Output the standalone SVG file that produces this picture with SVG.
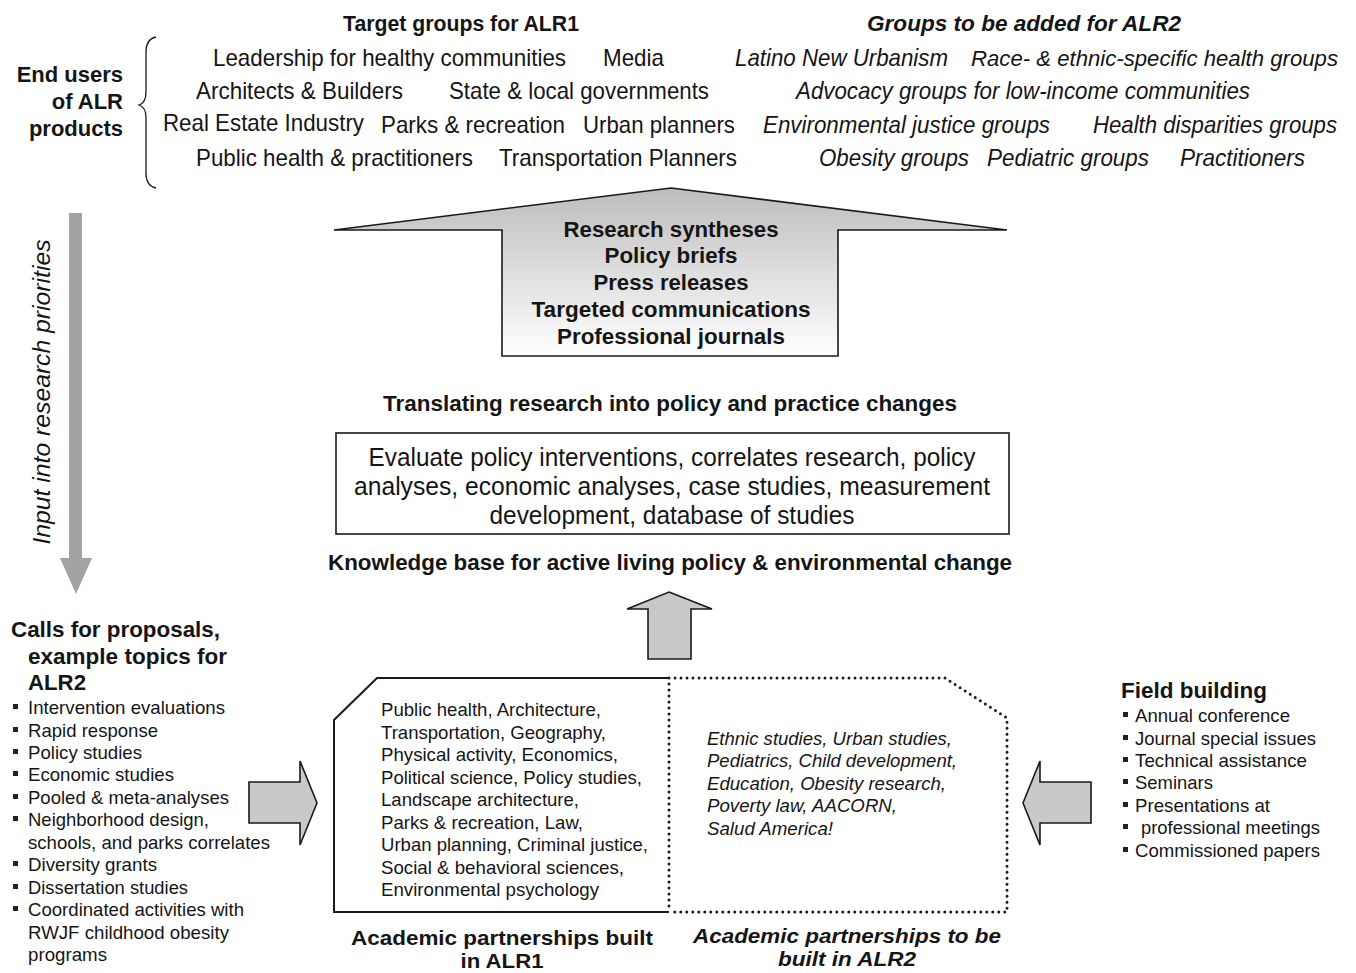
<svg xmlns="http://www.w3.org/2000/svg" width="1356" height="973" viewBox="0 0 1356 973">
<style>
text{font-family:"Liberation Sans",Arial,sans-serif;fill:#151515}
.b{font-weight:bold}
.i{font-style:italic}
.h{font-size:22px}
.k{font-size:20px}
.r{font-size:24px}
.m{font-size:25px}
.s{font-size:19px}
.l{font-size:19px}
.gray{fill:#c9c9c9;stroke:#1a1a1a;stroke-width:1.6;stroke-linejoin:miter}
.dot{fill:none;stroke:#1a1a1a;stroke-width:3;stroke-dasharray:0 6;stroke-linecap:round}
.sq{fill:#222}
</style>
<defs>
<linearGradient id="gr" x1="0" y1="0" x2="0" y2="1">
<stop offset="0" stop-color="#bdbdbd"/>
<stop offset="1" stop-color="#ffffff"/>
</linearGradient>
</defs>
<rect width="1356" height="973" fill="#fff"/>

<g id="end-users">
<text class="b h" x="123" y="82" text-anchor="end">End users</text>
<text class="b h" x="123" y="109" text-anchor="end">of ALR</text>
<text class="b h" x="123" y="136" text-anchor="end">products</text>
<path d="M156,37 Q146,39 146,52 L146,92 Q146,103 139,105 Q146,107 146,118 L146,173 Q146,186 156,188" fill="none" stroke="#1a1a1a" stroke-width="1.3"/>
</g>

<g id="target-groups">
<text class="b h" x="461" y="31" text-anchor="middle" textLength="236" lengthAdjust="spacingAndGlyphs">Target groups for ALR1</text>
<text class="r" x="213" y="66" textLength="353" lengthAdjust="spacingAndGlyphs">Leadership for healthy communities</text>
<text class="r" x="603" y="66" textLength="61" lengthAdjust="spacingAndGlyphs">Media</text>
<text class="r" x="196" y="99" textLength="207" lengthAdjust="spacingAndGlyphs">Architects &amp; Builders</text>
<text class="r" x="449" y="99" textLength="260" lengthAdjust="spacingAndGlyphs">State &amp; local governments</text>
<text class="r" x="163" y="131" textLength="201" lengthAdjust="spacingAndGlyphs">Real Estate Industry</text>
<text class="r" x="381" y="133" textLength="184" lengthAdjust="spacingAndGlyphs">Parks &amp; recreation</text>
<text class="r" x="583" y="133" textLength="152" lengthAdjust="spacingAndGlyphs">Urban planners</text>
<text class="r" x="196" y="166" textLength="277" lengthAdjust="spacingAndGlyphs">Public health &amp; practitioners</text>
<text class="r" x="499" y="166" textLength="238" lengthAdjust="spacingAndGlyphs">Transportation Planners</text>
</g>

<g id="groups-alr2">
<text class="b i h" x="1024" y="31" text-anchor="middle" textLength="314" lengthAdjust="spacingAndGlyphs">Groups to be added for ALR2</text>
<text class="i r" x="735" y="66" textLength="213" lengthAdjust="spacingAndGlyphs">Latino New Urbanism</text>
<text class="i" x="971" y="66" font-size="22" textLength="367" lengthAdjust="spacingAndGlyphs">Race- &amp; ethnic-specific health groups</text>
<text class="i r" x="796" y="99" textLength="454" lengthAdjust="spacingAndGlyphs">Advocacy groups for low-income communities</text>
<text class="i r" x="763" y="133" textLength="287" lengthAdjust="spacingAndGlyphs">Environmental justice groups</text>
<text class="i r" x="1093" y="133" textLength="244" lengthAdjust="spacingAndGlyphs">Health disparities groups</text>
<text class="i r" x="819" y="166" textLength="150" lengthAdjust="spacingAndGlyphs">Obesity groups</text>
<text class="i r" x="987" y="166" textLength="162" lengthAdjust="spacingAndGlyphs">Pediatric groups</text>
<text class="i r" x="1180" y="166" textLength="125" lengthAdjust="spacingAndGlyphs">Practitioners</text>
</g>

<g id="input-arrow">
<polygon points="69,213 82,213 82,558 92,558 76,594 60,558 69,558" fill="#a3a3a3"/>
<text class="i r" transform="translate(50,392) rotate(-90)" text-anchor="middle" textLength="305" lengthAdjust="spacingAndGlyphs">Input into research priorities</text>
</g>

<g id="products-arrow">
<polygon points="671,188 1007,230 838,230 838,356 502,356 502,230 334,230" fill="url(#gr)" stroke="#1a1a1a" stroke-width="1.6"/>
<text class="b h" x="671" y="237" text-anchor="middle" textLength="215" lengthAdjust="spacingAndGlyphs">Research syntheses</text>
<text class="b h" x="671" y="263" text-anchor="middle" textLength="133" lengthAdjust="spacingAndGlyphs">Policy briefs</text>
<text class="b h" x="671" y="290" text-anchor="middle" textLength="155" lengthAdjust="spacingAndGlyphs">Press releases</text>
<text class="b h" x="671" y="317" text-anchor="middle" textLength="279" lengthAdjust="spacingAndGlyphs">Targeted communications</text>
<text class="b h" x="671" y="344" text-anchor="middle" textLength="228" lengthAdjust="spacingAndGlyphs">Professional journals</text>
</g>

<g id="translating">
<text class="b h" x="670" y="411" text-anchor="middle" textLength="574" lengthAdjust="spacingAndGlyphs">Translating research into policy and practice changes</text>
</g>

<g id="knowledge-box">
<rect x="336" y="433" width="673" height="101" fill="#fff" stroke="#1a1a1a" stroke-width="1.6"/>
<text class="m" x="672" y="466" text-anchor="middle" textLength="607" lengthAdjust="spacingAndGlyphs">Evaluate policy interventions, correlates research, policy</text>
<text class="m" x="672" y="495" text-anchor="middle" textLength="636" lengthAdjust="spacingAndGlyphs">analyses, economic analyses, case studies,  measurement</text>
<text class="m" x="672" y="524" text-anchor="middle" textLength="365" lengthAdjust="spacingAndGlyphs">development, database of studies</text>
<text class="b h" x="670" y="570" text-anchor="middle" textLength="684" lengthAdjust="spacingAndGlyphs">Knowledge base for active living policy &amp; environmental change</text>
</g>

<g id="connectors">
<polygon class="gray" points="669,592 712,609 691,609 691,659 648,659 648,609 627,609"/>
<polygon class="gray" points="249,782 300,782 300,761 317,803 300,845 300,823 249,823"/>
<polygon class="gray" points="1023,803 1040,761 1040,782 1091,782 1091,823 1040,823 1040,845"/>
</g>

<g id="alr1-partnerships">
<path d="M669,678 L377,678 L334,720 L334,912 L669,912" fill="none" stroke="#1a1a1a" stroke-width="2"/>
<text class="l" x="381" y="716" textLength="220" lengthAdjust="spacingAndGlyphs">Public health, Architecture,</text>
<text class="l" x="381" y="739" textLength="225" lengthAdjust="spacingAndGlyphs">Transportation, Geography,</text>
<text class="l" x="381" y="761" textLength="237" lengthAdjust="spacingAndGlyphs">Physical activity, Economics,</text>
<text class="l" x="381" y="784" textLength="261" lengthAdjust="spacingAndGlyphs">Political science, Policy studies,</text>
<text class="l" x="381" y="806" textLength="198" lengthAdjust="spacingAndGlyphs">Landscape architecture,</text>
<text class="l" x="381" y="829" textLength="202" lengthAdjust="spacingAndGlyphs">Parks &amp; recreation, Law,</text>
<text class="l" x="381" y="851" textLength="267" lengthAdjust="spacingAndGlyphs">Urban planning, Criminal justice,</text>
<text class="l" x="381" y="874" textLength="243" lengthAdjust="spacingAndGlyphs">Social &amp; behavioral sciences,</text>
<text class="l" x="381" y="896" textLength="218" lengthAdjust="spacingAndGlyphs">Environmental psychology</text>
<text class="b k" x="502" y="945" text-anchor="middle" textLength="302" lengthAdjust="spacingAndGlyphs">Academic partnerships built</text>
<text class="b k" x="502" y="968" text-anchor="middle" textLength="83" lengthAdjust="spacingAndGlyphs">in ALR1</text>
</g>

<g id="alr2-partnerships">
<path class="dot" d="M669,678 L945,678 L1007,718 L1007,912 L669,912 M669,678 L669,912"/>
<text class="i l" x="707" y="745" textLength="245" lengthAdjust="spacingAndGlyphs">Ethnic studies, Urban studies,</text>
<text class="i l" x="707" y="767" textLength="250" lengthAdjust="spacingAndGlyphs">Pediatrics, Child development,</text>
<text class="i l" x="707" y="790" textLength="239" lengthAdjust="spacingAndGlyphs">Education, Obesity research,</text>
<text class="i l" x="707" y="812" textLength="190" lengthAdjust="spacingAndGlyphs">Poverty law, AACORN,</text>
<text class="i l" x="707" y="835" textLength="126" lengthAdjust="spacingAndGlyphs">Salud America!</text>
<text class="b i k" x="847" y="943" text-anchor="middle" textLength="308" lengthAdjust="spacingAndGlyphs">Academic partnerships to be</text>
<text class="b i k" x="847" y="966" text-anchor="middle" textLength="138" lengthAdjust="spacingAndGlyphs">built in ALR2</text>
</g>

<g id="calls-for-proposals">
<text class="b h" x="11" y="637" textLength="209" lengthAdjust="spacingAndGlyphs">Calls for proposals,</text>
<text class="b h" x="28" y="664" textLength="199" lengthAdjust="spacingAndGlyphs">example topics for</text>
<text class="b h" x="28" y="690" textLength="58" lengthAdjust="spacingAndGlyphs">ALR2</text>
<rect class="sq" x="13" y="704" width="5" height="5"/>
<text class="s" x="28" y="714" textLength="197" lengthAdjust="spacingAndGlyphs">Intervention evaluations</text>
<rect class="sq" x="13" y="727" width="5" height="5"/>
<text class="s" x="28" y="737" textLength="130" lengthAdjust="spacingAndGlyphs">Rapid response</text>
<rect class="sq" x="13" y="749" width="5" height="5"/>
<text class="s" x="28" y="759" textLength="114" lengthAdjust="spacingAndGlyphs">Policy studies</text>
<rect class="sq" x="13" y="771" width="5" height="5"/>
<text class="s" x="28" y="781" textLength="146" lengthAdjust="spacingAndGlyphs">Economic studies</text>
<rect class="sq" x="13" y="794" width="5" height="5"/>
<text class="s" x="28" y="804" textLength="201" lengthAdjust="spacingAndGlyphs">Pooled &amp; meta-analyses</text>
<rect class="sq" x="13" y="816" width="5" height="5"/>
<text class="s" x="28" y="826" textLength="181" lengthAdjust="spacingAndGlyphs">Neighborhood design,</text>
<text class="s" x="28" y="849" textLength="242" lengthAdjust="spacingAndGlyphs">schools, and parks correlates</text>
<rect class="sq" x="13" y="861" width="5" height="5"/>
<text class="s" x="28" y="871" textLength="129" lengthAdjust="spacingAndGlyphs">Diversity grants</text>
<rect class="sq" x="13" y="884" width="5" height="5"/>
<text class="s" x="28" y="894" textLength="160" lengthAdjust="spacingAndGlyphs">Dissertation studies</text>
<rect class="sq" x="13" y="906" width="5" height="5"/>
<text class="s" x="28" y="916" textLength="216" lengthAdjust="spacingAndGlyphs">Coordinated activities with</text>
<text class="s" x="28" y="939" textLength="201" lengthAdjust="spacingAndGlyphs">RWJF childhood obesity</text>
<text class="s" x="28" y="961" textLength="79" lengthAdjust="spacingAndGlyphs">programs</text>
</g>

<g id="field-building">
<text class="b h" x="1121" y="698" textLength="146" lengthAdjust="spacingAndGlyphs">Field building</text>
<rect class="sq" x="1123" y="712" width="5" height="5"/>
<text class="s" x="1135" y="722" textLength="155" lengthAdjust="spacingAndGlyphs">Annual conference</text>
<rect class="sq" x="1123" y="735" width="5" height="5"/>
<text class="s" x="1135" y="745" textLength="181" lengthAdjust="spacingAndGlyphs">Journal special issues</text>
<rect class="sq" x="1123" y="757" width="5" height="5"/>
<text class="s" x="1135" y="767" textLength="172" lengthAdjust="spacingAndGlyphs">Technical assistance</text>
<rect class="sq" x="1123" y="779" width="5" height="5"/>
<text class="s" x="1135" y="789" textLength="78" lengthAdjust="spacingAndGlyphs">Seminars</text>
<rect class="sq" x="1123" y="802" width="5" height="5"/>
<text class="s" x="1135" y="812" textLength="135" lengthAdjust="spacingAndGlyphs">Presentations at</text>
<rect class="sq" x="1123" y="824" width="5" height="5"/>
<text class="s" x="1141" y="834" textLength="179" lengthAdjust="spacingAndGlyphs">professional meetings</text>
<rect class="sq" x="1123" y="847" width="5" height="5"/>
<text class="s" x="1135" y="857" textLength="185" lengthAdjust="spacingAndGlyphs">Commissioned papers</text>
</g>
</svg>
